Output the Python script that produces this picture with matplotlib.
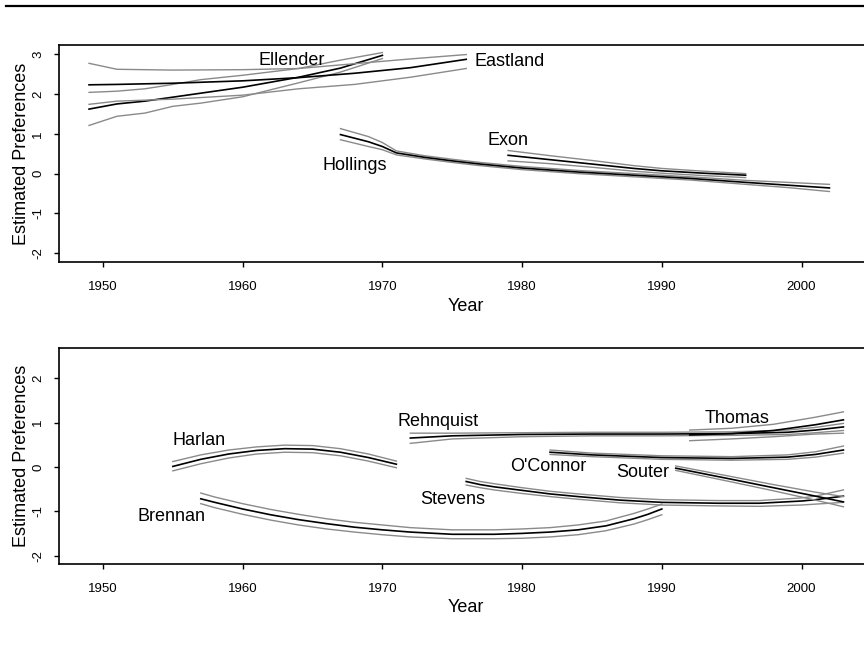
import matplotlib
matplotlib.use("Agg")
import matplotlib.pyplot as plt
from matplotlib.lines import Line2D

plt.rcParams["font.family"] = ["Liberation Sans", "DejaVu Sans"]

# ---- top panel: senators ----
ellender_years = [1949, 1951, 1953, 1955, 1957, 1960, 1964, 1967, 1970]
ellender_mid = [1.62, 1.75, 1.82, 1.92, 2.02, 2.17, 2.42, 2.65, 2.97]
ellender_hi = [2.04, 2.07, 2.13, 2.24, 2.36, 2.47, 2.64, 2.85, 3.04]
ellender_lo = [1.21, 1.44, 1.52, 1.69, 1.77, 1.93, 2.28, 2.55, 2.89]

eastland_years = [1949, 1951, 1955, 1960, 1964, 1968, 1972, 1976]
eastland_mid = [2.23, 2.24, 2.27, 2.33, 2.41, 2.52, 2.66, 2.87]
eastland_hi = [2.77, 2.62, 2.60, 2.61, 2.64, 2.76, 2.88, 2.99]
eastland_lo = [1.74, 1.82, 1.87, 1.97, 2.13, 2.24, 2.42, 2.64]

hollings_years = [1967, 1969, 1970, 1971, 1973, 1975, 1977, 1980, 1984, 1988, 1992, 1996, 1999, 2002]
hollings_mid = [0.98, 0.80, 0.68, 0.52, 0.41, 0.32, 0.24, 0.14, 0.04, -0.04, -0.12, -0.22, -0.29, -0.36]
hollings_hi = [1.13, 0.93, 0.78, 0.57, 0.45, 0.36, 0.28, 0.18, 0.08, 0.00, -0.08, -0.17, -0.22, -0.27]
hollings_lo = [0.85, 0.68, 0.60, 0.47, 0.37, 0.28, 0.20, 0.10, 0.00, -0.08, -0.16, -0.27, -0.35, -0.45]

exon_years = [1979, 1982, 1985, 1988, 1990, 1993, 1996]
exon_mid = [0.46, 0.35, 0.24, 0.13, 0.07, 0.01, -0.04]
exon_hi = [0.58, 0.45, 0.33, 0.20, 0.13, 0.06, 0.00]
exon_lo = [0.32, 0.25, 0.16, 0.06, 0.01, -0.05, -0.10]

# ---- bottom panel: justices ----
harlan_years = [1955, 1957, 1959, 1961, 1963, 1965, 1967, 1969, 1971]
harlan_mid = [0.01, 0.17, 0.29, 0.37, 0.41, 0.40, 0.33, 0.21, 0.06]
harlan_hi = [0.12, 0.27, 0.38, 0.45, 0.49, 0.48, 0.41, 0.29, 0.13]
harlan_lo = [-0.09, 0.07, 0.20, 0.29, 0.33, 0.32, 0.25, 0.13, -0.02]

brennan_years = [1957, 1958, 1960, 1962, 1964, 1966, 1968, 1970, 1972, 1975, 1978, 1980, 1982, 1984, 1986, 1988, 1989, 1990]
brennan_mid = [-0.72, -0.80, -0.95, -1.08, -1.19, -1.28, -1.36, -1.42, -1.47, -1.52, -1.52, -1.50, -1.47, -1.42, -1.33, -1.17, -1.07, -0.95]
brennan_hi = [-0.59, -0.68, -0.83, -0.96, -1.07, -1.17, -1.25, -1.31, -1.37, -1.42, -1.42, -1.40, -1.37, -1.31, -1.22, -1.05, -0.95, -0.84]
brennan_lo = [-0.83, -0.92, -1.07, -1.20, -1.31, -1.40, -1.47, -1.53, -1.58, -1.62, -1.62, -1.61, -1.58, -1.53, -1.44, -1.29, -1.19, -1.08]

rehnquist_years = [1972, 1975, 1980, 1985, 1990, 1995, 1999, 2001, 2003]
rehnquist_mid = [0.65, 0.70, 0.73, 0.74, 0.74, 0.75, 0.78, 0.83, 0.90]
rehnquist_hi = [0.76, 0.76, 0.77, 0.78, 0.78, 0.79, 0.83, 0.89, 0.98]
rehnquist_lo = [0.53, 0.63, 0.68, 0.70, 0.70, 0.71, 0.73, 0.77, 0.82]

thomas_years = [1992, 1995, 1998, 2001, 2003]
thomas_mid = [0.72, 0.75, 0.82, 0.95, 1.06]
thomas_hi = [0.83, 0.87, 0.96, 1.12, 1.24]
thomas_lo = [0.59, 0.63, 0.68, 0.74, 0.76]

oconnor_years = [1982, 1985, 1990, 1995, 1999, 2001, 2003]
oconnor_mid = [0.33, 0.27, 0.21, 0.19, 0.22, 0.28, 0.38]
oconnor_hi = [0.38, 0.31, 0.25, 0.23, 0.27, 0.34, 0.47]
oconnor_lo = [0.28, 0.23, 0.17, 0.15, 0.17, 0.22, 0.31]

stevens_years = [1976, 1977, 1978, 1980, 1982, 1984, 1987, 1990, 1994, 1997, 2000, 2001, 2003]
stevens_mid = [-0.33, -0.40, -0.45, -0.53, -0.61, -0.67, -0.75, -0.80, -0.82, -0.82, -0.77, -0.74, -0.66]
stevens_hi = [-0.26, -0.33, -0.38, -0.47, -0.55, -0.61, -0.69, -0.74, -0.76, -0.76, -0.70, -0.66, -0.52]
stevens_lo = [-0.41, -0.47, -0.52, -0.60, -0.67, -0.73, -0.81, -0.86, -0.88, -0.89, -0.86, -0.84, -0.80]

souter_years = [1991, 1995, 1998, 2001, 2003]
souter_mid = [-0.03, -0.28, -0.47, -0.66, -0.79]
souter_hi = [0.02, -0.22, -0.40, -0.57, -0.67]
souter_lo = [-0.08, -0.34, -0.54, -0.75, -0.90]

top_series = [
    ("Ellender", ellender_years, ellender_mid, ellender_hi, ellender_lo),
    ("Eastland", eastland_years, eastland_mid, eastland_hi, eastland_lo),
    ("Hollings", hollings_years, hollings_mid, hollings_hi, hollings_lo),
    ("Exon", exon_years, exon_mid, exon_hi, exon_lo),
]
bottom_series = [
    ("Harlan", harlan_years, harlan_mid, harlan_hi, harlan_lo),
    ("Brennan", brennan_years, brennan_mid, brennan_hi, brennan_lo),
    ("Rehnquist", rehnquist_years, rehnquist_mid, rehnquist_hi, rehnquist_lo),
    ("Thomas", thomas_years, thomas_mid, thomas_hi, thomas_lo),
    ("O'Connor", oconnor_years, oconnor_mid, oconnor_hi, oconnor_lo),
    ("Stevens", stevens_years, stevens_mid, stevens_hi, stevens_lo),
    ("Souter", souter_years, souter_mid, souter_hi, souter_lo),
]

# label positions (year, value)
top_labels = {"Ellender": (1963.5, 2.84), "Eastland": (1979.1, 2.82),
              "Hollings": (1968.0, 0.21), "Exon": (1979.0, 0.82)}
bottom_labels = {"Harlan": (1956.9, 0.59), "Brennan": (1954.9, -1.12),
                 "Rehnquist": (1974.0, 1.02), "Stevens": (1975.0, -0.74),
                 "O'Connor": (1981.9, 0.0), "Souter": (1988.6, -0.13),
                 "Thomas": (1995.4, 1.10)}

W, H = 864, 647
fig = plt.figure(figsize=(W / 100, H / 100), dpi=100)

# thin page rule across the top
fig.add_artist(Line2D([6 / W, 1.0], [1 - 6 / H, 1 - 6 / H], color="black", lw=1.6))


def make_panel(left, top, bottom, right, ylim, yticks, series, labels):
    ax = fig.add_axes([left / W, 1 - bottom / H, (right - left) / W, (bottom - top) / H])
    for name, yrs, mid, hi, lo in series:
        ax.plot(yrs, hi, color="#8a8a8a", lw=1.0)
        ax.plot(yrs, lo, color="#8a8a8a", lw=1.0)
        ax.plot(yrs, mid, color="black", lw=1.2)
    for name, (x, y) in labels.items():
        ax.text(x, y, name, fontsize=13, ha="center", va="center")
    # 103px -> 1950, 13.97 px per year
    ax.set_xlim(1950 + (left - 103) / 13.97, 1950 + (right - 103) / 13.97)
    ax.set_ylim(*ylim)
    ax.set_xticks([1950, 1960, 1970, 1980, 1990, 2000])
    ax.set_yticks(yticks)
    ax.set_yticklabels([str(t) for t in yticks], rotation=90, va="center")
    ax.tick_params(axis="both", labelsize=9.5, length=3.5, width=1.0, direction="out")
    ax.tick_params(axis="x", pad=10)
    ax.tick_params(axis="y", pad=7)
    for s in ax.spines.values():
        s.set_linewidth(1.2)
    ax.set_xlabel("Year", fontsize=13)
    ax.set_ylabel("Estimated Preferences", fontsize=13)
    h = bottom - top
    ax.xaxis.set_label_coords((466 - left) / (right - left), -(44) / h)
    ax.xaxis.label.set_va("center")
    ax.yaxis.set_label_coords(-(left - 22) / (right - left), 0.5)
    ax.yaxis.label.set_va("center")
    return ax


make_panel(59, 45, 262, 873, (-2.22, 3.23), [-2, -1, 0, 1, 2, 3], top_series, top_labels)
make_panel(59, 348, 564, 873, (-2.19, 2.68), [-2, -1, 0, 1, 2], bottom_series, bottom_labels)

fig.savefig("out.png", dpi=100)
